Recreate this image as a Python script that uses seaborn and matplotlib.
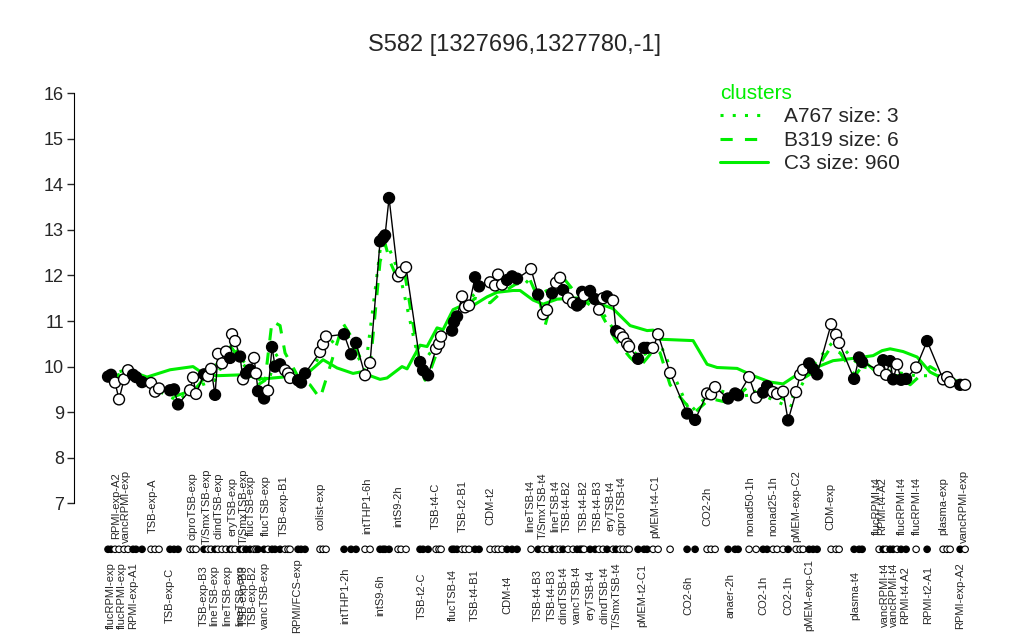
import pandas as pd
import numpy as np
import seaborn as sns
import matplotlib.pyplot as plt
from matplotlib.lines import Line2D

# sample positions, expression values and fill flag
pos = [108, 111, 115, 119, 124, 128, 133, 136, 142, 151, 155, 159, 170, 174, 178,
       190, 193, 196, 204, 208, 211, 215, 218, 222, 226, 230, 232, 235, 240, 243,
       246, 250, 254, 256, 258, 264, 268, 272, 275, 280, 285, 288, 290, 298, 301,
       305, 320, 323, 326, 344, 351, 356, 365, 370, 380, 383, 385, 389, 398, 401,
       406, 420, 423, 428, 436, 439, 441, 452, 454, 457, 462, 465, 469, 475, 479,
       490, 495, 498, 502, 507, 512, 517, 531, 538, 543, 547, 552, 556, 560, 563,
       568, 573, 577, 580, 582, 584, 590, 595, 599, 603, 607, 613, 616, 620, 623,
       627, 629, 638, 644, 647, 653, 658, 670, 687, 695, 707, 711, 715, 728, 735,
       738, 749, 756, 763, 767, 773, 777, 783, 788, 796, 800, 803, 809, 813, 817,
       831, 836, 839, 854, 859, 862, 879, 883, 886, 890, 893, 897, 901, 906, 916,
       927, 943, 947, 950, 960, 965]
values = [9.78, 9.82, 9.65, 9.28, 9.72, 9.92, 9.82, 9.77, 9.66, 9.64, 9.45, 9.52, 9.48, 9.50, 9.17,
          9.48, 9.76, 9.40, 9.83, 9.79, 9.95, 9.38, 10.28, 10.07, 10.33, 10.19, 10.71, 10.56, 10.22, 9.72,
          9.85, 9.93, 10.19, 9.85, 9.46, 9.30, 9.47, 10.43, 10.00, 10.05, 9.92, 9.85, 9.75, 9.70, 9.65,
          9.85, 10.32, 10.49, 10.66, 10.71, 10.27, 10.52, 9.81, 10.08, 12.75, 12.82, 12.88, 13.70, 11.98, 12.07,
          12.18, 10.10, 9.92, 9.81, 10.39, 10.50, 10.66, 10.79, 10.98, 11.10, 11.54, 11.30, 11.34, 11.96, 11.76,
          11.85, 11.78, 12.02, 11.80, 11.90, 11.98, 11.93, 12.14, 11.58, 11.15, 11.24, 11.61, 11.84, 11.95, 11.68,
          11.50, 11.40, 11.34, 11.40, 11.64, 11.56, 11.66, 11.48, 11.25, 11.50, 11.54, 11.45, 10.78, 10.72, 10.64,
          10.50, 10.44, 10.17, 10.41, 10.41, 10.41, 10.71, 9.86, 8.97, 8.83, 9.41, 9.39, 9.55, 9.30, 9.41,
          9.37, 9.77, 9.32, 9.43, 9.57, 9.44, 9.40, 9.45, 8.82, 9.44, 9.82, 9.93, 10.07, 9.95, 9.83,
          10.93, 10.70, 10.52, 9.73, 10.20, 10.10, 9.92, 10.14, 9.82, 10.12, 9.72, 10.05, 9.71, 9.73, 9.98,
          10.56, 9.72, 9.77, 9.66, 9.60, 9.60]
filled = "FFOOOOFFFOOOFFFOOOFOOFOOOFOOFOFFOOFFOFFFOOOFFFOOOFFFOOFFFFOOOFFFOOOFFFOOOFFOOOOFFFOFOOFOOFOOFFFOFFOOFOFOOOOFFFOOOFFOOOFFFOOFFOOOFOOOFFFOOOFFFOFOFFOFFOFOOOFO"

# cluster centre lines
c3_x = [108, 133, 147, 170, 193, 203, 217, 243, 263, 283, 303, 323, 337, 353, 360, 380, 387, 402, 407,
        420, 427, 437, 443, 453, 463, 470, 487, 497, 513, 520, 533, 543, 557, 580, 607, 613, 630, 647,
        653, 660, 693, 707, 717, 737, 753, 770, 783, 803, 817, 833, 853, 873, 882, 890, 903, 917, 930,
        940, 953, 965]
c3_y = [9.72, 9.88, 9.77, 9.93, 10.0, 9.85, 9.80, 9.82, 9.73, 9.77, 9.77, 10.15, 9.97, 9.85, 9.88, 9.72,
        9.75, 10.0, 9.95, 10.47, 10.44, 10.85, 10.81, 11.25, 11.35, 11.30, 11.53, 11.63, 11.67, 11.67, 11.46,
        11.37, 11.48, 11.51, 11.32, 11.27, 10.90, 10.79, 10.80, 10.60, 10.57, 10.05, 9.98, 9.96, 9.80, 9.66,
        9.62, 9.91, 9.99, 10.13, 10.18, 10.24, 10.35, 10.39, 10.33, 10.21, 9.88, 9.77, 9.66, 9.59]
b319_x = [108, 130, 150, 175, 195, 210, 232, 245, 258, 265, 272, 280, 285, 300, 310, 320, 330, 343, 350,
          360, 370, 380, 385, 390, 398, 405, 420, 425, 430, 440, 460, 475, 490, 500, 515, 530, 540, 545,
          555, 565, 580, 600, 615, 630, 640, 655, 660, 670, 685, 695, 710, 730, 750, 760, 775, 790, 800,
          815, 830, 840, 855, 865, 880, 900, 910, 930, 945, 965]
b319_y = [9.75, 9.9, 9.6, 9.35, 9.5, 9.9, 10.4, 10.0, 9.6, 9.7, 11.0, 10.9, 10.3, 9.7, 9.6, 9.3, 10.0,
          10.95, 10.7, 10.2, 10.0, 12.3, 12.7, 12.3, 11.9, 12.0, 10.0, 9.7, 9.9, 10.5, 11.2, 11.5, 11.4,
          11.6, 11.8, 11.9, 11.4, 10.9, 11.7, 11.9, 11.5, 11.2, 10.6, 10.2, 10.0, 10.4, 10.3, 9.6, 9.2,
          9.0, 9.3, 9.2, 9.6, 9.3, 9.4, 9.2, 9.7, 9.9, 10.4, 10.3, 9.8, 10.1, 9.8, 9.8, 9.6, 10.0, 9.8, 9.6]
a767_x = [108, 128, 155, 178, 195, 215, 232, 250, 268, 275, 290, 305, 325, 345, 365, 382, 389, 400,
          420, 440, 460, 480, 500, 520, 540, 560, 590, 620, 640, 660, 690, 715, 740, 760, 790, 810,
          835, 860, 890, 915, 940, 965]
a767_y = [9.8, 9.95, 9.5, 9.25, 9.55, 9.7, 10.5, 9.9, 9.55, 10.3, 9.8, 9.75, 10.4, 10.8, 9.9, 12.9,
          12.6, 12.0, 10.0, 10.6, 11.3, 11.7, 11.9, 12.0, 11.6, 11.8, 11.6, 10.6, 10.2, 10.5, 9.0, 9.5,
          9.35, 9.4, 9.1, 9.95, 10.6, 10.0, 9.9, 9.8, 9.8, 9.6]

upper_labels = ["RPMI-exp-A2", "vancRPMI-exp", "TSB-exp-A", "ciproTSB-exp", "T/SmxTSB-exp",
                "clindTSB-exp", "eryTSB-exp", "T/SmxTSB-exp", "flucTSB-exp", "flucTSB-exp",
                "TSB-exp-B1", "colist-exp", "intTHP1-6h", "intS9-2h", "TSB-t4-C", "TSB-t2-B1",
                "CDM-t2", "lineTSB-t4", "T/SmxTSB-t4", "lineTSB-t4", "TSB-t4-B2", "TSB-t4-B2",
                "TSB-t4-B3", "eryTSB-t4", "ciproTSB-t4", "pMEM-t4-C1", "CO2-2h", "nonad50-1h",
                "nonad25-1h", "pMEM-exp-C2", "CDM-exp", "flucRPMI-t4", "RPMI-t4-A2", "flucRPMI-t4",
                "flucRPMI-t4", "plasma-exp", "vancRPMI-exp"]
upper_pos = [116, 126, 153, 192, 207, 218, 232, 244, 251, 266, 284, 320, 367, 398, 436, 463, 490,
             530, 543, 555, 567, 584, 598, 610, 621, 655, 707, 750, 773, 796, 830, 877, 882, 902,
             917, 943, 964]
lower_labels = ["flucRPMI-exp", "flucRPMI-exp", "RPMI-exp-A1", "TSB-exp-C", "TSB-exp-B3",
                "lineTSB-exp", "lineTSB-exp", "lineTSB-exp", "TSB-exp-B3", "TSB-exp-B2",
                "vancTSB-exp", "RPMI/FCS-exp", "intTHP1-2h", "intS9-6h", "TSB-t2-C", "flucTSB-t4",
                "TSB-t4-B1", "CDM-t4", "TSB-t4-B3", "TSB-t4-B3", "clindTSB-t4", "vancTSB-t4",
                "eryTSB-t4", "clindTSB-t4", "T/SmxTSB-t4", "pMEM-t2-C1", "CO2-6h", "anaer-2h",
                "CO2-1h", "CO2-1h", "pMEM-exp-C1", "plasma-t4", "vancRPMI-t4", "vancRPMI-t4",
                "RPMI-t4-A2", "RPMI-t2-A1", "RPMI-exp-A2"]
lower_pos = [111, 122, 133, 170, 204, 214, 227, 240, 244, 253, 265, 297, 345, 380, 422, 453, 475,
             507, 538, 552, 563, 577, 590, 604, 617, 642, 688, 730, 763, 788, 809, 855, 885, 894,
             905, 928, 960]

df = pd.DataFrame({"pos": pos, "value": values, "filled": list(filled)})

sns.set_style("white")
plt.rcParams['font.family'] = ['Liberation Sans', 'DejaVu Sans']

fig = plt.figure(figsize=(10.24, 6.4), dpi=100)
ax = fig.add_axes([0.072, 0.188, 0.904, 0.692])

green = "#00ee00"
sns.lineplot(x=a767_x, y=a767_y, ax=ax, color=green, lw=2.2, linestyle=(0, (1, 3)), sort=False, estimator=None)
sns.lineplot(x=b319_x, y=b319_y, ax=ax, color=green, lw=2.2, linestyle=(0, (4, 4)), sort=False, estimator=None)
sns.lineplot(x=c3_x, y=c3_y, ax=ax, color=green, lw=2.2, sort=False, estimator=None)

sns.lineplot(data=df, x="pos", y="value", ax=ax, color="black", lw=1, sort=False, estimator=None)
sns.scatterplot(data=df, x="pos", y="value", hue="filled", palette={"F": "black", "O": "white"},
                edgecolor="black", linewidth=1, s=62, ax=ax, legend=False, zorder=5)

# sample marks below the axis
sns.scatterplot(data=df.assign(row=5.99), x="pos", y="row", hue="filled",
                palette={"F": "black", "O": "white"}, edgecolor="black", linewidth=0.8,
                s=22, ax=ax, legend=False, clip_on=False, zorder=5)

for lab, p in zip(upper_labels, upper_pos):
    ax.text(p, 6.94, lab, rotation=90, ha="center", va="center", fontsize=8)
for lab, p in zip(lower_labels, lower_pos):
    ax.text(p, 4.98, lab, rotation=90, ha="center", va="center", fontsize=8)

ax.set_xlim(73.7, 999.3)
ax.set_ylim(6.64, 16.36)
ax.set_yticks(range(7, 17))
ax.tick_params(axis="y", labelsize=13, length=5, pad=2, left=True, width=1)
ax.set_xticks([])
ax.set_xlabel("")
ax.set_ylabel("")
for side in ["top", "right", "bottom"]:
    ax.spines[side].set_visible(False)
ax.spines["left"].set_bounds(7, 16)
ax.spines["left"].set_color("black")

fig.text(514 / 1024, 1 - 45 / 640, "S582 [1327696,1327780,-1]", ha="center", va="center", fontsize=17)

handles = [Line2D([], [], color=green, lw=2.2, linestyle=(0, (1, 3))),
           Line2D([], [], color=green, lw=2.2, linestyle=(0, (4, 4))),
           Line2D([], [], color=green, lw=2.2)]
leg = fig.legend(handles, ["A767 size: 3", "B319 size: 6", "C3 size: 960"], title="clusters",
                 loc="upper left", bbox_to_anchor=(701 / 1024, 1 - 65 / 640), frameon=False,
                 fontsize=15, title_fontsize=15, handlelength=2.3, labelspacing=0.22, handletextpad=0.8)
leg.get_title().set_color(green)
leg._legend_box.align = "left"

fig.savefig("out.png", dpi=100)
